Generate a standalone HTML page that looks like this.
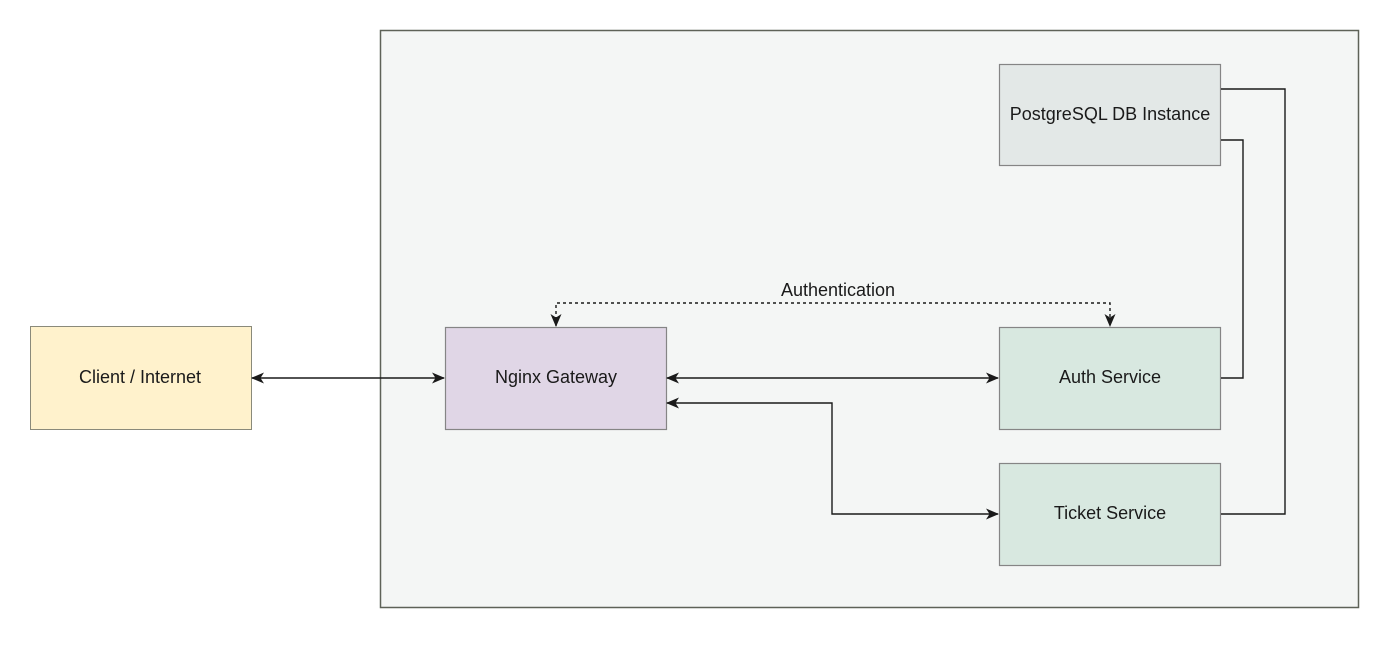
<!DOCTYPE html>
<html><head><meta charset="utf-8"><style>
html,body{margin:0;padding:0;background:#fff;}
svg{display:block;}
text{font-family:"Liberation Sans",Arial,sans-serif;font-size:18px;fill:#1a1a1a;}
</style></head><body>
<svg width="1400" height="650" viewBox="0 0 1400 650" xmlns="http://www.w3.org/2000/svg">
<defs>
<marker id="a" markerWidth="13" markerHeight="11" refX="12" refY="5.5" orient="auto-start-reverse" markerUnits="userSpaceOnUse">
<path d="M0,0 L13,5.5 L0,11 L3.5,5.5 Z" fill="#1a1a1a"/>
</marker>
</defs>
<rect x="380.5" y="30.5" width="978" height="577" fill="#f4f6f5" stroke="#5e6258" stroke-width="1.5"/>
<rect x="30.5" y="326.5" width="221" height="103" fill="#fff2cc" stroke="#8a8a7a" stroke-width="1"/>
<rect x="445.5" y="327.5" width="221" height="102" fill="#e0d6e6" stroke="#858585" stroke-width="1.2"/>
<rect x="999.5" y="327.5" width="221" height="102" fill="#d8e8e0" stroke="#858585" stroke-width="1.2"/>
<rect x="999.5" y="463.5" width="221" height="102" fill="#d8e8e0" stroke="#858585" stroke-width="1.2"/>
<rect x="999.5" y="64.5" width="221" height="101" fill="#e3e8e7" stroke="#858585" stroke-width="1.2"/>
<g fill="none" stroke="#1a1a1a" stroke-width="1.4">
<line x1="252" y1="378" x2="444" y2="378" marker-start="url(#a)" marker-end="url(#a)"/>
<line x1="667" y1="378" x2="998" y2="378" marker-start="url(#a)" marker-end="url(#a)"/>
<polyline points="667,403 832,403 832,514 998,514" marker-start="url(#a)" marker-end="url(#a)"/>
<polyline points="1221,89 1285,89 1285,514 1221,514"/>
<polyline points="1221,140 1243,140 1243,378 1221,378"/>
<polyline points="556,326 556,303 1110,303 1110,326" stroke-dasharray="3,3" marker-start="url(#a)" marker-end="url(#a)"/>
</g>
<text x="140" y="383" text-anchor="middle">Client / Internet</text>
<text x="556" y="383" text-anchor="middle">Nginx Gateway</text>
<text x="1110" y="383" text-anchor="middle">Auth Service</text>
<text x="1110" y="519" text-anchor="middle">Ticket Service</text>
<text x="1110" y="120" text-anchor="middle">PostgreSQL DB Instance</text>
<text x="838" y="296" text-anchor="middle">Authentication</text>
</svg>
</body></html>
